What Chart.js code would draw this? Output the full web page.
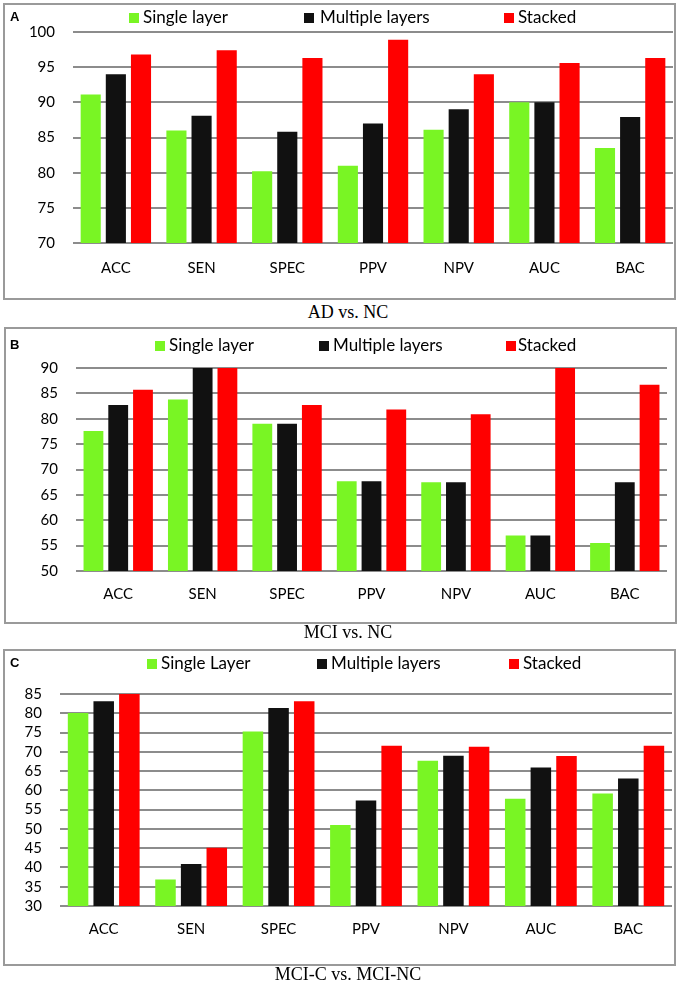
<!DOCTYPE html>
<html>
<head>
<meta charset="utf-8">
<script src="https://cdn.jsdelivr.net/npm/chart.js@4/dist/chart.umd.min.js"></script>
<style>
  html, body { margin: 0; padding: 0; background: #fff; }
  body { width: 680px; height: 985px; position: relative; overflow: hidden; font-family: Lato, "Open Sans", sans-serif; }
  .box { position: absolute; border: 2px solid #9a9a9a; box-sizing: border-box; }
  .cv { position: absolute; left: 0; }
  .letter { position: absolute; font-family: "Liberation Sans", Arial, sans-serif; font-weight: bold; font-size: 13px; color: #000; }
  .cap { position: absolute; left: 0; width: 696px; text-align: center; font-family: "Liberation Serif", "Times New Roman", serif; font-size: 18px; color: #000; }
  .lg { position: absolute; font-family: Lato, sans-serif; font-size: 17px; color: #000; line-height: 20px; white-space: nowrap; }
  .sw { position: absolute; width: 10px; height: 10px; }
</style>
</head>
<body>
<script>
// ---------- DATA ----------
const categories = ["ACC", "SEN", "SPEC", "PPV", "NPV", "AUC", "BAC"];
const seriesNamesA = ["Single layer", "Multiple layers", "Stacked"];
const seriesNamesB = ["Single layer", "Multiple layers", "Stacked"];
const seriesNamesC = ["Single Layer", "Multiple layers", "Stacked"];

const adSingle   = [91.1, 86.0, 80.2, 81.0, 86.1, 90.0, 83.5];
const adMultiple = [94.0, 88.1, 85.8, 87.0, 89.0, 90.0, 87.9];
const adStacked  = [96.8, 97.4, 96.3, 98.9, 94.0, 95.6, 96.3];

const mciSingle   = [77.6, 83.8, 79.0, 67.7, 67.5, 57.0, 55.5];
const mciMultiple = [82.7, 90.0, 79.0, 67.7, 67.5, 57.0, 67.5];
const mciStacked  = [85.7, 90.0, 82.7, 81.8, 80.9, 90.0, 86.7];

const cSingle   = [80.1, 36.9, 75.3, 51.0, 67.7, 57.8, 59.2];
const cMultiple = [83.1, 40.9, 81.4, 57.4, 69.0, 65.9, 63.1];
const cStacked  = [85.0, 45.1, 83.1, 71.6, 71.3, 68.9, 71.6];

const ticksA = { min: 70, max: 100, step: 5 };
const ticksB = { min: 50, max: 90, step: 5 };
const ticksC = { min: 30, max: 85, step: 5 };

const captions = ["AD vs. NC", "MCI vs. NC", "MCI-C vs. MCI-NC"];
const letters = ["A", "B", "C"];

// ---------- STYLE / LAYOUT ----------
const colors = ["#79f524", "#111111", "#ff0000"];

const panels = [
  { letter: letters[0], caption: captions[0], names: seriesNamesA, data: [adSingle, adMultiple, adStacked], ticks: ticksA,
    box: { l: 3, r: 676, t: 3, b: 300 }, plot: { l: 73, r: 673, t: 32, b: 243 }, labPad: 16,
    legend: { y: 18, items: [[129, 143], [304, 320], [504, 518]] }, capY: 313 },
  { letter: letters[1], caption: captions[1], names: seriesNamesB, data: [mciSingle, mciMultiple, mciStacked], ticks: ticksB,
    box: { l: 4, r: 677, t: 327, b: 624 }, plot: { l: 76, r: 667, t: 368, b: 571 }, labPad: 14,
    legend: { y: 346, items: [[155, 169], [319, 333], [506, 518]] }, capY: 633 },
  { letter: letters[2], caption: captions[2], names: seriesNamesC, data: [cSingle, cMultiple, cStacked], ticks: ticksC,
    box: { l: 3, r: 676, t: 649, b: 966 }, plot: { l: 60, r: 672, t: 694, b: 906 }, labPad: 14,
    legend: { y: 664, items: [[147, 161], [317, 331], [509, 523]] }, capY: 975 }
];

function el(tag, cls, css, text) {
  const e = document.createElement(tag);
  if (cls) e.className = cls;
  Object.assign(e.style, css || {});
  if (text !== undefined) e.textContent = text;
  document.body.appendChild(e);
  return e;
}

panels.forEach((p) => {
  el('div', 'box', { left: p.box.l + 'px', top: p.box.t + 'px', width: (p.box.r - p.box.l) + 'px', height: (p.box.b - p.box.t) + 'px' });
  const H = p.box.b - p.box.t - 2;
  const top = p.box.t + 1;
  const cv = el('canvas', 'cv', { top: top + 'px', width: '680px', height: H + 'px' });
  cv.width = 680; cv.height = H;

  el('div', 'letter', { left: '10px', top: (p.legend.y - 9) + 'px' }, p.letter);
  p.legend.items.forEach((it, i) => {
    el('div', 'sw', { left: it[0] + 'px', top: (p.legend.y - 5) + 'px', background: colors[i] });
    el('div', 'lg', { left: it[1] + 'px', top: (p.legend.y - 11) + 'px' }, p.names[i]);
  });
  el('div', 'cap', { top: (p.capY - 11) + 'px' }, p.caption);

  new Chart(cv, {
    type: 'bar',
    data: {
      labels: categories,
      datasets: p.data.map((d, i) => ({
        label: p.names[i],
        data: d,
        backgroundColor: colors[i],
        borderWidth: 0,
        categoryPercentage: 0.88,
        barPercentage: 0.8
      }))
    },
    options: {
      responsive: false,
      animation: false,
      devicePixelRatio: 1,
      layout: { padding: { top: p.plot.t - top, right: 680 - p.plot.r, left: 0, bottom: 0 } },
      plugins: { legend: { display: false }, tooltip: { enabled: false } },
      scales: {
        x: {
          grid: { display: false, drawTicks: false },
          border: { display: false },
          ticks: { color: '#000', font: { family: 'Lato', size: 15 }, padding: p.labPad },
          afterFit: (s) => { s.height = (top + H) - p.plot.b; }
        },
        y: {
          min: p.ticks.min, max: p.ticks.max,
          grid: { color: '#8c8c8c', lineWidth: 2, drawTicks: false },
          border: { display: false },
          ticks: { stepSize: p.ticks.step, autoSkip: false, color: '#000', font: { family: 'Lato', size: 15 }, padding: 18 },
          afterFit: (s) => { s.width = p.plot.l; }
        }
      }
    }
  });
});
</script>
</body>
</html>
